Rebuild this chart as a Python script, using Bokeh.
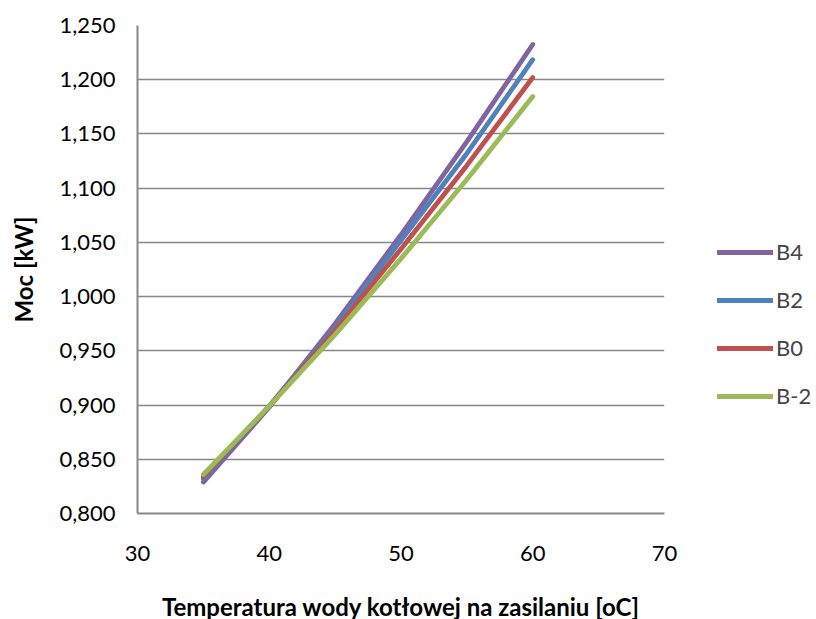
from bokeh.plotting import figure
from bokeh.models import Legend, LegendItem, CustomJSTickFormatter, FixedTicker, Range1d
from bokeh.embed import file_html
from bokeh.resources import INLINE

temps = [35, 40, 45, 50, 55, 60]
series_names = ["B4", "B2", "B0", "B-2"]
b4 = [0.829, 0.898, 0.975, 1.057, 1.143, 1.2325]
b2 = [0.832, 0.899, 0.972, 1.052, 1.132, 1.2185]
b0 = [0.834, 0.899, 0.969, 1.044, 1.121, 1.202]
bm2 = [0.836, 0.899, 0.965, 1.035, 1.108, 1.1845]
colors = ["#8064A2", "#4F81BD", "#C0504D", "#9BBB59"]
y_ticks = [0.80, 0.85, 0.90, 0.95, 1.00, 1.05, 1.10, 1.15, 1.20, 1.25]
x_ticks = [30, 40, 50, 60, 70]

FONT = "Lato"
GRAY = "#878787"

p = figure(frame_width=527, frame_height=488, output_backend="svg", toolbar_location=None,
           x_range=Range1d(30, 70), y_range=Range1d(0.8, 1.25),
           min_border_left=0, min_border_right=0, min_border_top=25, min_border_bottom=98)
p.margin = (0, 0, 0, 6)
p.outline_line_color = None
p.background_fill_color = "white"
p.border_fill_color = "white"

renderers = []
for ys, c in zip([b4, b2, b0, bm2], colors):
    r = p.line(temps, ys, line_color=c, line_width=4.8, line_cap="round", line_join="round")
    renderers.append(r)

p.xgrid.grid_line_color = None
p.ygrid.ticker = FixedTicker(ticks=y_ticks)
p.ygrid.grid_line_color = GRAY
p.ygrid.grid_line_width = 1.6

for ax in (p.xaxis[0], p.yaxis[0]):
    ax.axis_line_color = GRAY
    ax.axis_line_width = 2
    ax.major_tick_line_color = None
    ax.minor_tick_line_color = None
    ax.major_label_text_font = FONT
    ax.major_label_text_font_size = "22px"
    ax.major_label_text_color = "black"
    ax.axis_label_text_font = FONT
    ax.axis_label_text_font_size = "24px"
    ax.axis_label_text_font_style = "bold"
    ax.axis_label_text_color = "black"

p.xaxis.ticker = FixedTicker(ticks=x_ticks)
p.yaxis.ticker = FixedTicker(ticks=y_ticks)
p.yaxis.formatter = CustomJSTickFormatter(code="return tick.toFixed(3).replace('.', ',');")
p.xaxis.major_label_standoff = 26
p.yaxis.major_label_standoff = 16
p.xaxis.axis_label = "Temperatura wody kotłowej na zasilaniu [oC]"
p.yaxis.axis_label = "Moc [kW]"
p.xaxis.axis_label_standoff = 28
p.yaxis.axis_label_standoff = 18

legend = Legend(items=[LegendItem(label=n, renderers=[r]) for n, r in zip(series_names, renderers)],
                location=(53, 104), orientation="vertical",
                glyph_width=56, glyph_height=20, spacing=21, padding=0, margin=0,
                label_text_font=FONT, label_text_font_size="22px", label_standoff=3,
                border_line_color=None, background_fill_alpha=0)
p.add_layout(legend, "right")

open("out.html", "w").write(file_html(p, INLINE))
